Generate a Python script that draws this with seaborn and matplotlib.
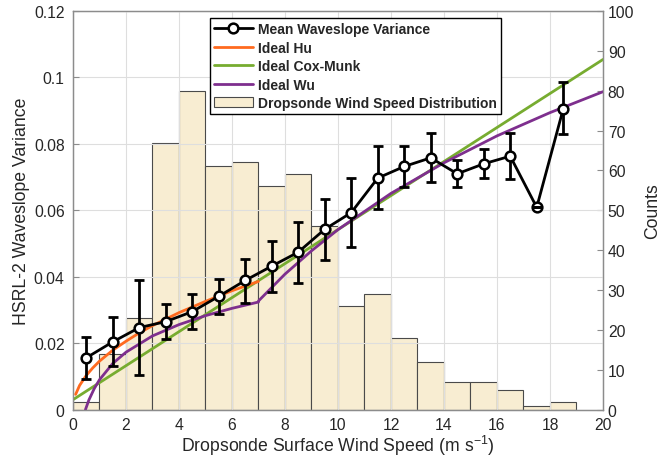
import numpy as np
import pandas as pd
import matplotlib
matplotlib.use("Agg")
import matplotlib.pyplot as plt
import seaborn as sns
from matplotlib.lines import Line2D
from matplotlib.patches import Patch

# ---- data ----
bin_centers = [0.5, 1.5, 2.5, 3.5, 4.5, 5.5, 6.5, 7.5, 8.5, 9.5,
               10.5, 11.5, 12.5, 13.5, 14.5, 15.5, 16.5, 17.5, 18.5]
bin_edges = list(range(0, 20))
counts = [2, 14, 23, 67, 80, 61, 62, 56, 59, 46,
          26, 29, 18, 12, 7, 7, 5, 1, 2]

mean_var = [0.0156, 0.0204, 0.0247, 0.0265, 0.0295, 0.0341, 0.0389, 0.0432,
            0.0474, 0.0543, 0.0593, 0.0697, 0.0732, 0.0758, 0.0710, 0.0740,
            0.0763, 0.0609, 0.0905]
err_hi = [0.0220, 0.0280, 0.0391, 0.0318, 0.0348, 0.0393, 0.0454, 0.0509,
          0.0566, 0.0634, 0.0697, 0.0793, 0.0793, 0.0833, 0.0750, 0.0785,
          0.0833, 0.0609, 0.0985]
err_lo = [0.0093, 0.0132, 0.0103, 0.0214, 0.0243, 0.0287, 0.0321, 0.0354,
          0.0381, 0.0452, 0.0489, 0.0603, 0.0671, 0.0686, 0.0671, 0.0697,
          0.0694, 0.0609, 0.0829]

hu_u = [0.1, 0.25, 0.5, 0.75, 1, 1.5, 2, 2.5, 3, 4, 5, 6, 7]
hu_var = [0.0046, 0.0073, 0.0103, 0.0126, 0.0146, 0.0179, 0.0206, 0.0231,
          0.0253, 0.0292, 0.0326, 0.0358, 0.0386]

cm_u = [0, 20]
cm_var = [0.003, 0.1054]

wu_u = [0.47, 0.6, 0.8, 1, 1.5, 2, 3, 4, 5, 6, 7, 7.01, 8, 9, 10, 12, 14, 16, 18, 20]
wu_var = [0.0, 0.0029, 0.0063, 0.0090, 0.0139, 0.0173, 0.0222, 0.0256, 0.0283,
          0.0305, 0.0324, 0.0328, 0.0408, 0.0478, 0.0542, 0.0651, 0.0743,
          0.0824, 0.0894, 0.0957]

x_ticks = [0, 2, 4, 6, 8, 10, 12, 14, 16, 18, 20]
y_ticks = [0, 0.02, 0.04, 0.06, 0.08, 0.1, 0.12]
y_ticklabels = ["0", "0.02", "0.04", "0.06", "0.08", "0.1", "0.12"]
c_ticks = [0, 10, 20, 30, 40, 50, 60, 70, 80, 90, 100]

# ---- style ----
sns.set_theme(style="white")
plt.rcParams['font.family'] = ['Liberation Sans', 'DejaVu Sans']
plt.rcParams['mathtext.fontset'] = 'custom'
plt.rcParams['mathtext.rm'] = 'Liberation Sans'

C_HU = '#FF6A1F'
C_CM = '#77AC30'
C_WU = '#7E2F8E'
C_BAR = '#F8EDD2'
AX_COL = '#8C8C8C'

fig = plt.figure(figsize=(6.67, 4.64), dpi=100)
ax = fig.add_axes([0.1094, 0.1149, 0.7946, 0.8593])
ax2 = ax.twinx()
ax.set_zorder(ax2.get_zorder() + 1)
ax.patch.set_visible(False)

# bars on right axis
bars_df = pd.DataFrame({"speed": bin_centers, "count": counts})
sns.histplot(data=bars_df, x="speed", weights="count", bins=bin_edges,
             ax=ax2, color=C_BAR, edgecolor='#4a4a4a', linewidth=0.8,
             alpha=1.0, legend=False)
ax2.set_ylim(0, 100)
ax2.set_yticks(c_ticks)
ax2.set_ylabel("Counts", fontsize=12.7, labelpad=7)

# curves on left axis
sns.lineplot(x=cm_u, y=cm_var, ax=ax, color=C_CM, linewidth=2, sort=False)
sns.lineplot(x=hu_u, y=hu_var, ax=ax, color=C_HU, linewidth=2, sort=False)
sns.lineplot(x=wu_u, y=wu_var, ax=ax, color=C_WU, linewidth=2, sort=False)

mv = np.array(mean_var)
yerr = np.vstack([mv - np.array(err_lo), np.array(err_hi) - mv])
ax.errorbar(bin_centers, mean_var, yerr=yerr, color='black', linewidth=2,
            elinewidth=2, capsize=0, marker='o', markersize=7,
            markerfacecolor='white', markeredgecolor='black',
            markeredgewidth=1.8, zorder=5)
ax.errorbar(bin_centers, mean_var, yerr=yerr, fmt='none', ecolor='black',
            elinewidth=0, capsize=3.3, capthick=2, zorder=6)

ax.set_xlim(0, 20)
ax.set_ylim(0, 0.12)
ax.set_xticks(x_ticks)
ax.set_yticks(y_ticks)
ax.set_yticklabels(y_ticklabels)
ax.set_xlabel(r"Dropsonde Surface Wind Speed (m s$^{-1}$)", fontsize=12.7, labelpad=1)
ax.set_ylabel("HSRL-2 Waveslope Variance", fontsize=12.7, labelpad=3)
ax.grid(True, color='#dedede', linewidth=0.8)
ax2.grid(False)

for a in (ax, ax2):
    a.tick_params(direction='in', length=4, width=0.8, color=AX_COL,
                  labelsize=11.3, labelcolor='#262626')
    for s in a.spines.values():
        s.set_color(AX_COL)
        s.set_linewidth(0.9)
ax.tick_params(axis='x', pad=5)
ax.tick_params(axis='y', pad=6)

handles = [
    Line2D([0], [0], color='black', linewidth=2, marker='o', markersize=7,
           markerfacecolor='white', markeredgewidth=1.8),
    Line2D([0], [0], color=C_HU, linewidth=2),
    Line2D([0], [0], color=C_CM, linewidth=2),
    Line2D([0], [0], color=C_WU, linewidth=2),
    Patch(facecolor=C_BAR, edgecolor='#4a4a4a', linewidth=0.8),
]
labels = ["Mean Waveslope Variance", "Ideal Hu", "Ideal Cox-Munk",
          "Ideal Wu", "Dropsonde Wind Speed Distribution"]
leg = ax.legend(handles, labels, loc='upper left', bbox_to_anchor=(0.258, 0.982),
                prop={'weight': 'bold', 'size': 10}, frameon=True, fancybox=False,
                edgecolor='black', framealpha=1, borderpad=0.3, labelspacing=0.32,
                handlelength=2.8, handletextpad=0.4, borderaxespad=0)
leg.get_frame().set_linewidth(1.0)

fig.savefig("out.png", dpi=100)
